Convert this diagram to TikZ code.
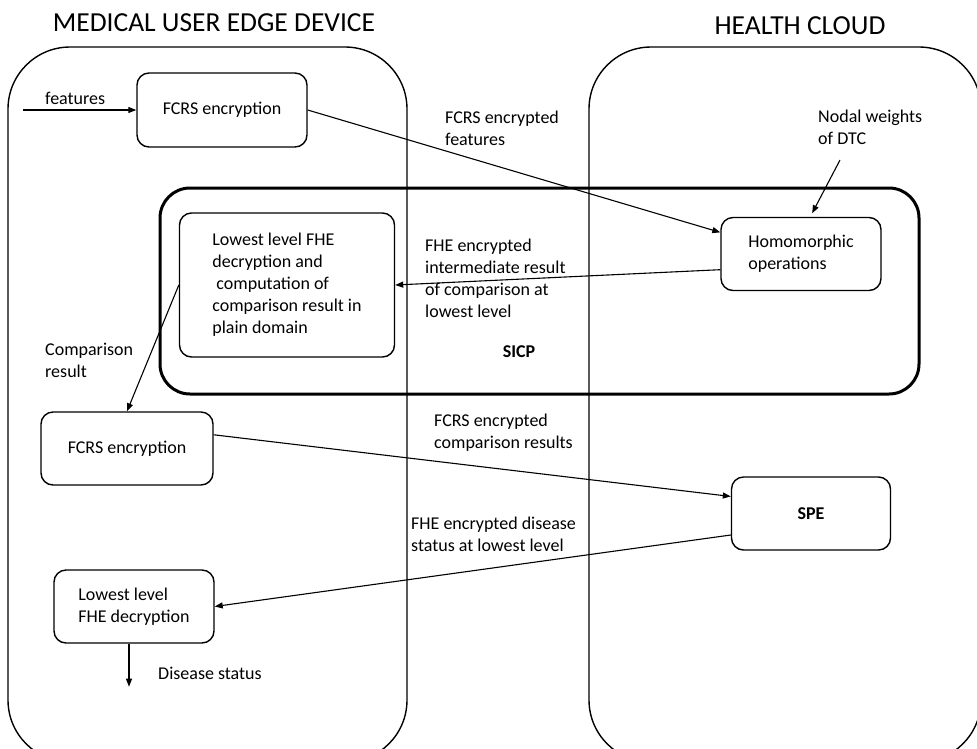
\documentclass[tikz,border=0pt]{standalone}
\usepackage{fontspec}
\setmainfont{Carlito}
\usetikzlibrary{positioning, arrows.meta, calc}
\definecolor{cInk}{HTML}{000000}

\begin{document}
\begin{tikzpicture}[x=1pt,y=-1pt,
  font=\fontsize{18}{22}\selectfont,
  blk/.style={draw=cInk,line width=1.4pt,rounded corners=12pt,align=left,inner sep=0pt},
  zone/.style={draw=cInk,line width=1.4pt,rounded corners=62pt},
  grp/.style={draw=cInk,line width=3pt,rounded corners=30pt},
  arr/.style={-{Triangle[length=8pt,width=6pt]},line width=1.1pt,draw=cInk},
  lbl/.style={align=left,anchor=west,inner sep=0pt,text=cInk},
  ttl/.style={font=\fontsize{27.5}{32}\selectfont,inner sep=0pt}]
  \useasboundingbox (0,0) rectangle (977,748);
  % device and cloud zones
  \draw[zone] (8,47) rectangle (407,762);
  \draw[zone] (589,47) rectangle (981,762);
  \draw[grp] (160,188) rectangle (919,394);
  \node[ttl] (tdev) at (214,23) {MEDICAL USER EDGE DEVICE};
  \node[ttl] (tcld) at (800,26) {HEALTH CLOUD};
  % blocks
  \node[blk, minimum width=170pt, minimum height=74pt] (enc1) at (222,110) {FCRS encryption};
  \node[blk, minimum width=215pt, minimum height=144pt] (low) at (287,285) {Lowest level FHE\\decryption and\\\ computation of\\comparison result in\\plain domain};
  \node[blk, minimum width=160pt, minimum height=73pt] (homo) at (801,254) {Homomorphic\\operations};
  \node[blk, minimum width=172pt, minimum height=73pt] (enc2) at (127,448.5) {FCRS encryption};
  \node[blk, minimum width=159pt, minimum height=73pt, font=\fontsize{18}{22}\selectfont\bfseries] (spe) at (811,513.5) {SPE};
  \node[blk, minimum width=160pt, minimum height=73pt] (low2) at (134,606.5) {Lowest level\\FHE decryption};
  % labels
  \node[lbl] (lbfeat) at (45,98) {features};
  \node[lbl] (lbenc) at (445,128) {FCRS encrypted\\features};
  \node[lbl] (lbdtc) at (818,127) {Nodal weights\\of DTC};
  \node[lbl] (lbint) at (425,278) {FHE encrypted\\intermediate result\\of comparison at\\lowest level};
  \node[font=\fontsize{18}{22}\selectfont\bfseries, inner sep=0pt] (sicp) at (519,352) {SICP};
  \node[lbl] (lbcmp) at (45,360) {Comparison\\result};
  \node[lbl] (lbres) at (434,433) {FCRS encrypted\\comparison results};
  \node[lbl] (lbstat) at (411,534) {FHE encrypted disease\\status at lowest level};
  \node[lbl] (lbdis) at (158,673) {Disease status};
  \coordinate (fin) at (23,110);
  \coordinate (dtc) at (840,160);
  \coordinate (dout) at ($(low2.south)+(-5,43)$);
  % connectors
  \draw[arr] (fin) -- (enc1.west); \draw[arr] (enc1.east) -- (homo.165); \draw[arr, shorten >=4pt] (dtc) -- (homo.76);
  \draw[arr] (homo.191) -- (low.east); \draw[arr] (low.west) -- (enc2.north);
  \draw[arr] (enc2.9) -- (spe.168); \draw[arr] (spe.195) -- (low2.east);
  \draw[arr] ($(low2.south)+(-5,0)$) -- (dout);
\end{tikzpicture}
\end{document}
